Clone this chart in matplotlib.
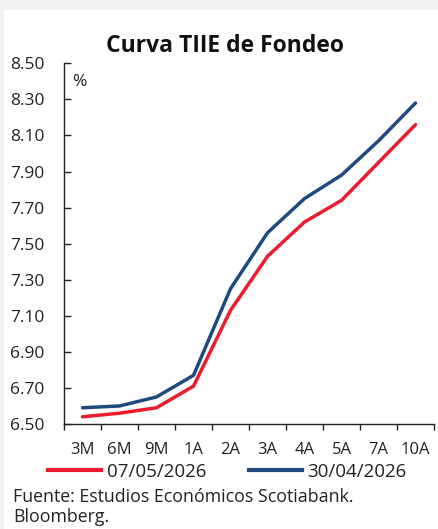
import matplotlib
matplotlib.use("Agg")
import matplotlib.pyplot as plt
from matplotlib.patches import Rectangle
from matplotlib.lines import Line2D

plt.rcParams['font.family'] = ['Open Sans', 'DejaVu Sans']

categories = ["3M", "6M", "9M", "1A", "2A", "3A", "4A", "5A", "7A", "10A"]
serie_0705 = [6.54, 6.56, 6.59, 6.71, 7.13, 7.43, 7.62, 7.74, 7.95, 8.16]
serie_3004 = [6.59, 6.60, 6.65, 6.77, 7.25, 7.56, 7.75, 7.88, 8.07, 8.28]
yticks = [6.50, 6.70, 6.90, 7.10, 7.30, 7.50, 7.70, 7.90, 8.10, 8.30, 8.50]
label_0705 = "07/05/2026"
label_3004 = "30/04/2026"
red = "#EC1C2E"
blue = "#1F4A80"

W, H = 439, 529
fig = plt.figure(figsize=(W / 100, H / 100), dpi=100)
fig.patch.set_facecolor("#F1F2F2")
fig.add_artist(Rectangle((4 / W, 0), 1 - 4 / W, (H - 10) / H, transform=fig.transFigure,
                         facecolor="white", edgecolor="none", zorder=0))

ax = fig.add_axes([64 / W, (H - 424) / H, (434 - 64) / W, (424 - 63.3) / H])
ax.set_facecolor("none")
x = [i + 0.5 for i in range(len(categories))]
ax.plot(x, serie_0705, color=red, lw=2.5, solid_capstyle="round", label=label_0705, clip_on=False)
ax.plot(x, serie_3004, color=blue, lw=2.5, solid_capstyle="round", label=label_3004, clip_on=False)

ax.set_xlim(0, len(categories))
ax.set_ylim(6.5, 8.5)
ax.set_yticks(yticks)
ax.set_yticklabels([f"{v:.2f}" for v in yticks])
ax.set_xticks(range(len(categories) + 1))
ax.set_xticklabels([])
ax.set_xticks(x, minor=True)
ax.set_xticklabels(categories, minor=True)

for s in ["top", "right"]:
    ax.spines[s].set_visible(False)
for s in ["left", "bottom"]:
    ax.spines[s].set_linewidth(1.0)
    ax.spines[s].set_color("#222222")

ax.tick_params(axis="y", direction="in", length=5, width=1.0, pad=14, labelsize=12.5, colors="#222222")
ax.tick_params(axis="x", which="major", direction="out", length=4, width=1.0, color="#222222")
ax.tick_params(axis="x", which="minor", length=0, pad=13, labelsize=12, labelcolor="#222222")

ax.text(0.022, 0.948, "%", transform=ax.transAxes, fontsize=12.5, color="#222222", va="center", ha="left")

fig.text(225 / W, 1 - 46 / H, "Curva TIIE de Fondeo", ha="center", va="center",
         fontsize=16.5, fontweight="bold", color="#111111")

handles = [Line2D([], [], color=red, lw=3), Line2D([], [], color=blue, lw=3)]
fig.legend(handles, [label_0705, label_3004], loc="center", bbox_to_anchor=(227.5 / W, 1 - 472 / H),
           ncol=2, frameon=False, fontsize=13.5, handlelength=2.83, handletextpad=0.32,
           columnspacing=2.24, labelcolor="#222222", borderpad=0, borderaxespad=0)

fig.text(13 / W, 1 - 497 / H, "Fuente: Estudios Económicos Scotiabank.", ha="left", va="center",
         fontsize=12.8, color="#222222")
fig.text(13 / W, 1 - 517 / H, "Bloomberg.", ha="left", va="center", fontsize=12.8, color="#222222")

fig.savefig("out.png", dpi=100, facecolor=fig.get_facecolor())
